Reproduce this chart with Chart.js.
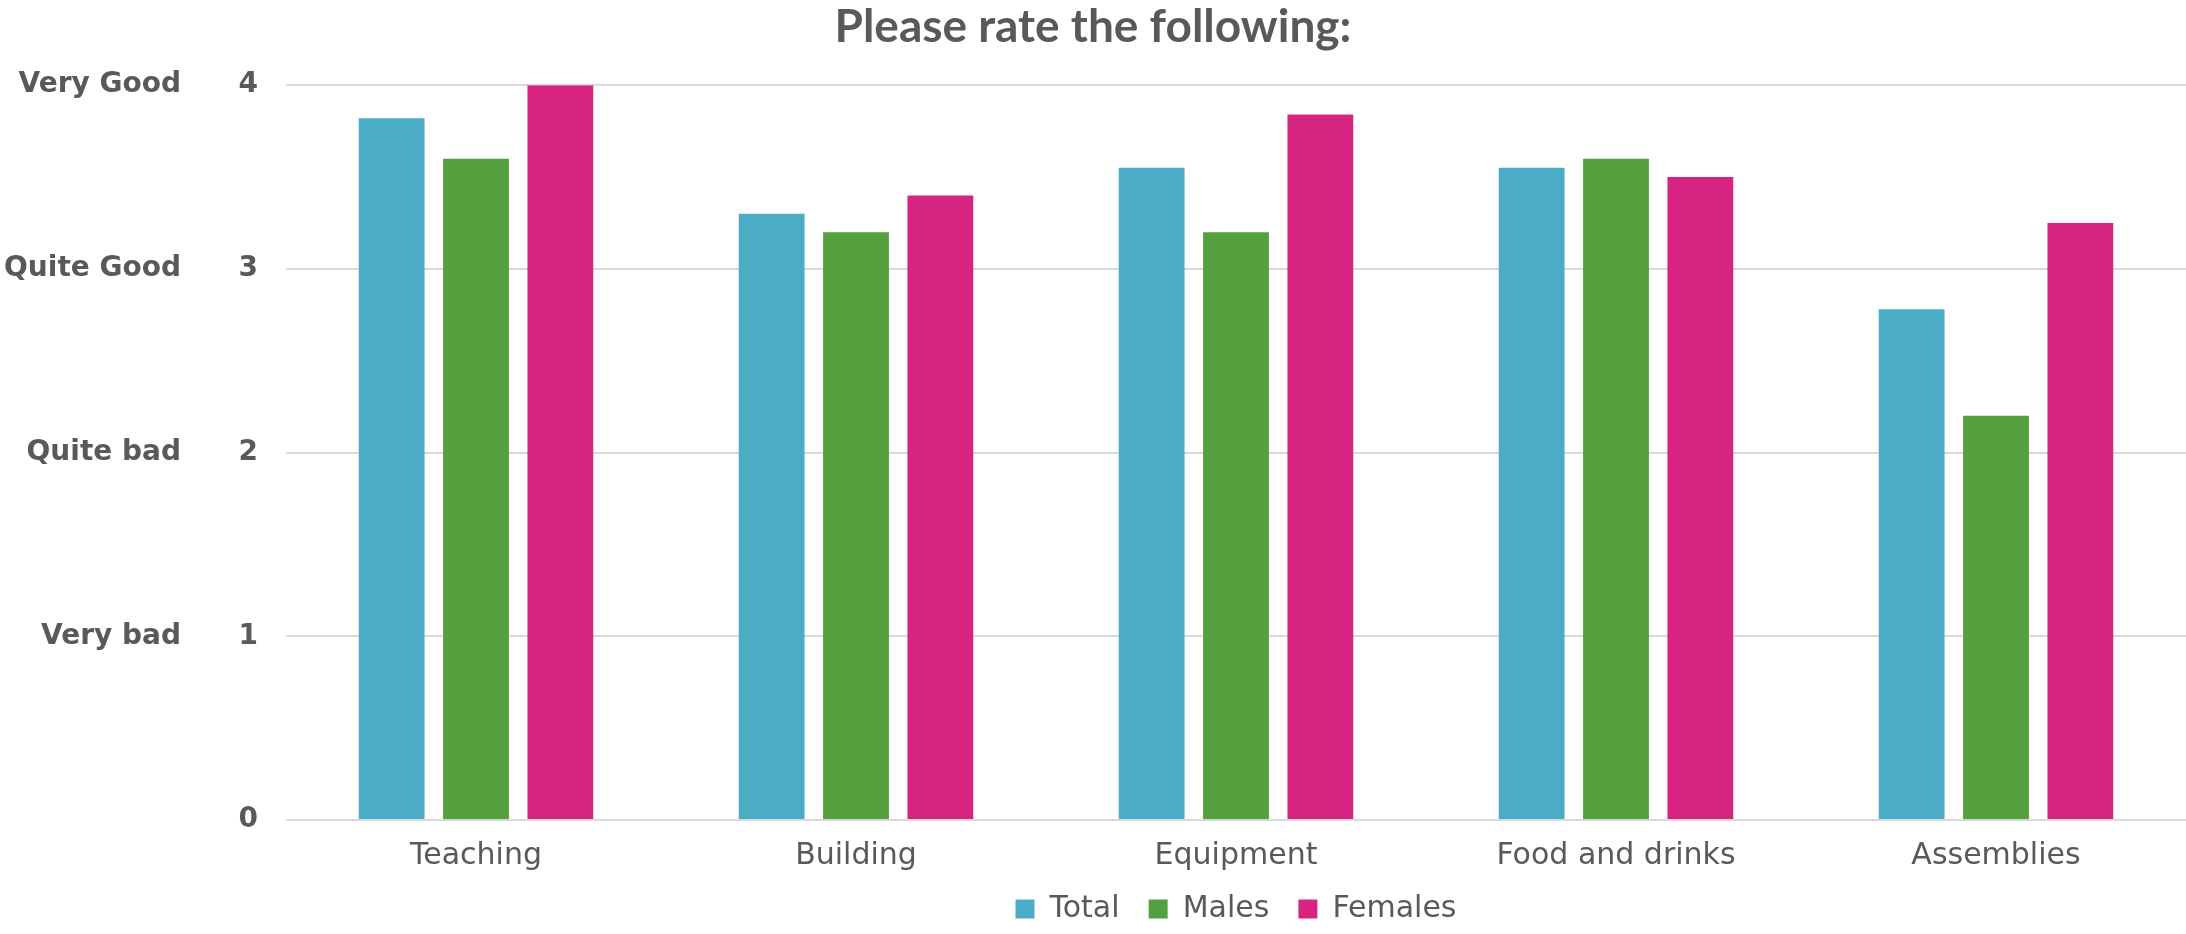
<!DOCTYPE html>
<html lang="en">
<head>
    <meta charset="UTF-8">
    <title>Please rate the following</title>
    <script src="https://cdn.jsdelivr.net/npm/chart.js"></script>
    <style>
        body {
            margin: 0;
            background-color: #ffffff;
        }
        .chart-box {
            width: 2186px;
            height: 934px;
        }
    </style>
</head>
<body>

<div class="chart-box">
    <canvas id="ratingChart"></canvas>
</div>

<script>
    // survey data
    const categories = ['Teaching', 'Building', 'Equipment', 'Food and drinks', 'Assemblies'];
    const seriesNames = ['Total', 'Males', 'Females'];
    const totalValues = [3.82, 3.30, 3.55, 3.55, 2.78];
    const maleValues = [3.60, 3.20, 3.20, 3.60, 2.20];
    const femaleValues = [4.00, 3.40, 3.84, 3.50, 3.25];
    const scaleLabels = ['', 'Very bad', 'Quite bad', 'Quite Good', 'Very Good'];

    const grey = '#595959';
    const titleFont = 'Lato, "Open Sans", sans-serif';
    const labelFont = '"DejaVu Sans", sans-serif';

    const ctx = document.getElementById('ratingChart').getContext('2d');
    new Chart(ctx, {
        type: 'bar',
        data: {
            labels: categories,
            datasets: [
                { label: seriesNames[0], data: totalValues, backgroundColor: '#4BACC6' },
                { label: seriesNames[1], data: maleValues, backgroundColor: '#549F3E' },
                { label: seriesNames[2], data: femaleValues, backgroundColor: '#D82481' }
            ]
        },
        options: {
            responsive: true,
            maintainAspectRatio: false,
            animation: false,
            categoryPercentage: 0.666,
            barPercentage: 0.78,
            layout: {
                padding: { left: 0, right: 0, top: 0, bottom: 0 }
            },
            plugins: {
                title: {
                    display: true,
                    text: 'Please rate the following:',
                    color: grey,
                    font: { family: titleFont, size: 46, weight: 'bold' },
                    padding: { top: 0, bottom: 30 }
                },
                legend: {
                    position: 'bottom',
                    fullSize: false,
                    labels: {
                        color: grey,
                        font: { family: labelFont, size: 30 },
                        boxWidth: 19,
                        boxHeight: 19,
                        padding: 10,
                        // wider gaps between items, like the original
                        generateLabels: function (chart) {
                            const items = Chart.defaults.plugins.legend.labels.generateLabels(chart);
                            items.forEach(function (item, i) {
                                if (i < items.length - 1) item.text = item.text + '  ';
                            });
                            return items;
                        }
                    }
                },
                tooltip: { enabled: false }
            },
            scales: {
                x: {
                    grid: { display: false },
                    border: { display: false },
                    ticks: {
                        color: grey,
                        font: { family: labelFont, size: 30 },
                        padding: 10
                    }
                },
                y: {
                    position: 'left',
                    weight: 0,
                    min: 0,
                    max: 4,
                    grid: { color: '#D9D9D9', lineWidth: 2, drawTicks: false },
                    border: { display: false },
                    ticks: {
                        stepSize: 1,
                        color: grey,
                        font: { family: labelFont, size: 28, weight: 'bold' },
                        padding: 28
                    },
                    afterFit: function (axis) { axis.width = 91; }
                },
                yText: {
                    position: 'left',
                    weight: 1,
                    min: 0,
                    max: 4,
                    grid: { display: false, drawTicks: false },
                    border: { display: false },
                    ticks: {
                        stepSize: 1,
                        color: grey,
                        font: { family: labelFont, size: 28, weight: 'bold' },
                        padding: 14,
                        callback: function (value) { return scaleLabels[value] || ''; }
                    },
                    afterFit: function (axis) { axis.width = 195; }
                }
            }
        }
    });
</script>
</body>
</html>
